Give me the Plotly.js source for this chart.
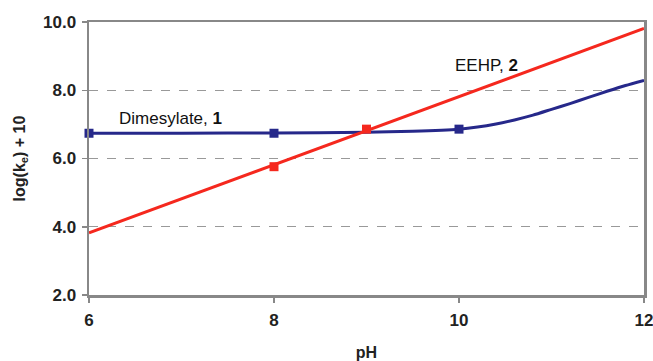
<!DOCTYPE html>
<html><head><meta charset="utf-8">
<script src="https://cdn.plot.ly/plotly-3.0.1.min.js"></script>
<style>html,body{margin:0;padding:0;background:#fff;}#chart{width:653px;height:361px;}</style>
</head><body><div id="chart"></div>
<script>
// Dimesylate, 1 (fitted curve + measured points)
const dimCurvePH = [6, 7, 8, 9, 9.5, 10, 10.2, 10.4, 10.6, 10.8, 11.0, 11.2, 11.4, 11.6, 11.8, 12];
const dimCurveLog = [6.74, 6.74, 6.75, 6.77, 6.80, 6.86, 6.92, 7.01, 7.13, 7.27, 7.44, 7.61, 7.79, 7.97, 8.14, 8.29];
const dimPointsPH = [6, 8, 10];
const dimPointsLog = [6.74, 6.74, 6.86];
// EEHP, 2 (fitted line + measured points)
const eehpLinePH = [6, 12];
const eehpLineLog = [3.82, 9.81];
const eehpPointsPH = [8, 9];
const eehpPointsLog = [5.76, 6.86];
const xTicks = [6, 8, 10, 12];
const yTicks = [2, 4, 6, 8, 10];
const yTickLabels = ['2.0', '4.0', '6.0', '8.0', '10.0'];

const blue = '#26288a';
const red = '#f5281e';
const font = 'Liberation Sans, Arial, sans-serif';

const traces = [
  {x: dimCurvePH, y: dimCurveLog, mode: 'lines', line: {color: blue, width: 3, shape: 'spline', smoothing: 0.6}, cliponaxis: false, hoverinfo: 'skip'},
  {x: eehpLinePH, y: eehpLineLog, mode: 'lines', line: {color: red, width: 3}, cliponaxis: false, hoverinfo: 'skip'},
  {x: dimPointsPH, y: dimPointsLog, mode: 'markers', marker: {symbol: 'square', size: 9, color: blue}, cliponaxis: false},
  {x: eehpPointsPH, y: eehpPointsLog, mode: 'markers', marker: {symbol: 'square', size: 9, color: red}, cliponaxis: false}
];

const layout = {
  width: 653, height: 361,
  margin: {l: 89, r: 9, t: 22, b: 66},
  paper_bgcolor: '#fff', plot_bgcolor: '#fff',
  showlegend: false,
  font: {family: font, color: '#111'},
  xaxis: {
    range: [6, 12], tickvals: xTicks, ticktext: xTicks.map(String),
    showgrid: false, zeroline: false,
    showline: true, linecolor: '#888', linewidth: 2.5, mirror: true,
    ticks: 'outside', ticklen: 5, tickwidth: 1.5, tickcolor: '#888',
    ticklabelstandoff: 3, ticklabeloverflow: 'allow',
    tickfont: {family: font, size: 17, color: '#222', weight: 'bold'},
    title: {text: '<b>pH</b>', font: {family: font, size: 16, color: '#222'}, standoff: 22}
  },
  yaxis: {
    range: [2, 10], tickvals: yTicks, ticktext: yTickLabels,
    showgrid: true, gridcolor: '#999', griddash: 'dash', gridwidth: 1.3,
    zeroline: false,
    showline: true, linecolor: '#888', linewidth: 2.5, mirror: true,
    ticks: 'outside', ticklen: 5, tickwidth: 1.5, tickcolor: '#888',
    ticklabelstandoff: 2,
    tickfont: {family: font, size: 17, color: '#222', weight: 'bold'},
    title: {text: '<b>log(k<sub>e</sub>) + 10</b>', font: {family: font, size: 16, color: '#222'}, standoff: 14}
  },
  annotations: [
    {x: 6.876, y: 7.18, xref: 'x', yref: 'y', text: 'Dimesylate, <b>1</b>', showarrow: false,
     font: {family: font, size: 17, color: '#111'}},
    {x: 10.30, y: 8.74, xref: 'x', yref: 'y', text: 'EEHP, <b>2</b>', showarrow: false,
     font: {family: font, size: 17, color: '#111'}}
  ]
};

Plotly.newPlot('chart', traces, layout, {displayModeBar: false, staticPlot: true});
</script></body></html>
